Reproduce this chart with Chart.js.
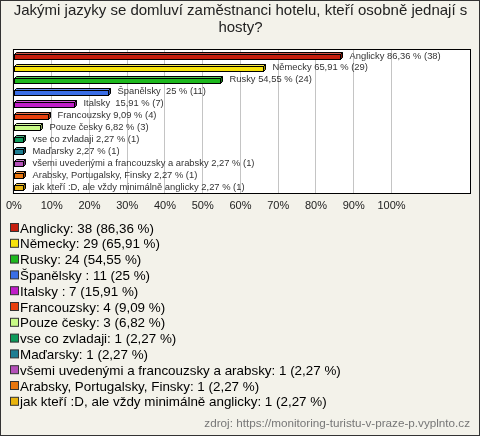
<!DOCTYPE html>
<html lang="cs">
<head>
<meta charset="UTF-8">
<title>Jazyky zaměstnanců hotelu</title>
<script src="https://cdn.jsdelivr.net/npm/chart.js"></script>
<style>
  html, body { margin: 0; padding: 0; background: #f3f2ea; }
  #wrap { width: 480px; height: 436px; }
</style>
</head>
<body>
<div id="wrap"><canvas id="chart" width="480" height="436"></canvas></div>
<script>
const categories = [
  'Anglicky', 'Německy', 'Rusky', 'Španělsky ', 'Italsky ', 'Francouzsky',
  'Pouze česky', 'vse co zvladaji', 'Maďarsky',
  'všemi uvedenými a francouzsky a arabsky', 'Arabsky, Portugalsky, Finsky',
  'jak kteří :D, ale vždy minimálně anglicky'
];
const counts = [38, 29, 24, 11, 7, 4, 3, 1, 1, 1, 1, 1];
const percents = [86.36, 65.91, 54.55, 25, 15.91, 9.09, 6.82, 2.27, 2.27, 2.27, 2.27, 2.27];
const colors = [
  '#c41e0e', '#f7e20a', '#1db81d', '#3a6ee6', '#c01ec8', '#e8400e',
  '#c8fa86', '#0e9a5a', '#1e7e92', '#b450b8', '#e8760e', '#e8b40e'
];
const titleLines = ['Jakými jazyky se domluví zaměstnanci hotelu, kteří osobně jednají s', 'hosty?'];
const sourceText = 'zdroj: https://monitoring-turistu-v-praze-p.vyplnto.cz';

const fmt = v => String(v).replace('.', ',');

function shade(hex, f) {
  const n = parseInt(hex.slice(1), 16);
  let r = n >> 16, g = (n >> 8) & 255, b = n & 255;
  const m = c => Math.max(0, Math.min(255, Math.round(f > 0 ? c + (255 - c) * f : c * (1 + f))));
  return `rgb(${m(r)},${m(g)},${m(b)})`;
}

const frame = {
  id: 'frame',
  beforeDraw(chart) {
    const c = chart.ctx;
    c.save();
    c.fillStyle = '#f3f2ea';
    c.fillRect(0, 0, chart.width, chart.height);
    const a = chart.chartArea;
    c.fillStyle = '#ffffff';
    c.fillRect(a.left, a.top, a.right - a.left, a.bottom - a.top);
    c.restore();
  },
  afterDraw(chart) {
    const c = chart.ctx;
    const a = chart.chartArea;
    c.save();
    c.strokeStyle = '#000';
    c.lineWidth = 1;
    c.strokeRect(a.left - 0.5, a.top - 0.5, a.right - a.left + 1, a.bottom - a.top + 1);
    c.strokeStyle = '#333';
    c.strokeRect(0.5, 0.5, chart.width - 1, chart.height - 1);

    // legend
    c.font = '13.4px "Liberation Sans", Arial, sans-serif';
    c.textBaseline = 'middle';
    categories.forEach((name, i) => {
      const y = 228 + i * 15.8;
      c.fillStyle = colors[i];
      c.fillRect(10.5, y - 4.5, 8, 8);
      c.strokeStyle = '#333';
      c.strokeRect(10.5, y - 4.5, 8, 8);
      c.fillStyle = '#000';
      c.fillText(`${name}: ${counts[i]} (${fmt(percents[i])} %)`, 20, y + 1);
    });

    // source
    c.font = '11.7px "Liberation Sans", Arial, sans-serif';
    c.fillStyle = '#777';
    c.textAlign = 'right';
    c.fillText(sourceText, 470, 424);
    c.restore();
  }
};

const bars3d = {
  id: 'bars3d',
  afterDatasetsDraw(chart) {
    const c = chart.ctx;
    const meta = chart.getDatasetMeta(0);
    const d = 2;
    c.save();
    c.lineWidth = 1;
    c.strokeStyle = '#000';
    meta.data.forEach((bar, i) => {
      const x0 = Math.round(bar.base) + 0.5;
      const x1 = Math.max(Math.round(bar.x), x0 + 6) + 0.5;
      const top = Math.round(bar.y - 4) + 0.5;
      const bot = top + 7;
      // top face
      c.beginPath();
      c.moveTo(x0, top + d); c.lineTo(x0 + d, top); c.lineTo(x1 + d, top); c.lineTo(x1, top + d); c.closePath();
      c.fillStyle = shade(colors[i], 0.25); c.fill(); c.stroke();
      // side face
      c.beginPath();
      c.moveTo(x1, top + d); c.lineTo(x1 + d, top); c.lineTo(x1 + d, bot - d); c.lineTo(x1, bot); c.closePath();
      c.fillStyle = shade(colors[i], -0.35); c.fill(); c.stroke();
      // front face
      c.fillStyle = colors[i];
      c.fillRect(x0, top + d, x1 - x0, bot - top - d);
      c.strokeRect(x0, top + d, x1 - x0, bot - top - d);

      c.font = '9.4px "Liberation Sans", Arial, sans-serif';
      c.fillStyle = '#333';
      c.textBaseline = 'middle';
      c.fillText(`${categories[i]} ${fmt(percents[i])} % (${counts[i]})`, x1 + 9, bar.y);
    });
    c.restore();
  }
};

new Chart(document.getElementById('chart'), {
  type: 'bar',
  data: {
    labels: categories,
    datasets: [{
      data: percents,
      backgroundColor: 'transparent',
      borderWidth: 0,
      barThickness: 8
    }]
  },
  options: {
    responsive: false,
    animation: false,
    indexAxis: 'y',
    layout: { padding: { left: 11, right: 10, top: 0, bottom: 221 } },
    plugins: {
      legend: { display: false },
      tooltip: { enabled: false },
      title: {
        display: true,
        text: titleLines,
        color: '#222',
        font: { family: '"Liberation Sans", Arial, sans-serif', size: 15, weight: 'normal', lineHeight: 1.1 },
        padding: { top: 3, bottom: 14 }
      }
    },
    scales: {
      x: {
        min: 0,
        max: 120.8,
        afterBuildTicks: s => { s.ticks = s.ticks.filter(t => t.value <= 100 && t.value % 10 === 0); },
        afterFit: s => { s.height = 22; },
        ticks: {
          stepSize: 10,
          padding: 6,
          color: '#222',
          font: { family: '"Liberation Sans", Arial, sans-serif', size: 11 },
          callback: v => v + '%'
        },
        grid: { color: '#c4c4c4', drawTicks: false },
        border: { display: false }
      },
      y: { display: false }
    }
  },
  plugins: [frame, bars3d]
});
</script>
</body>
</html>
